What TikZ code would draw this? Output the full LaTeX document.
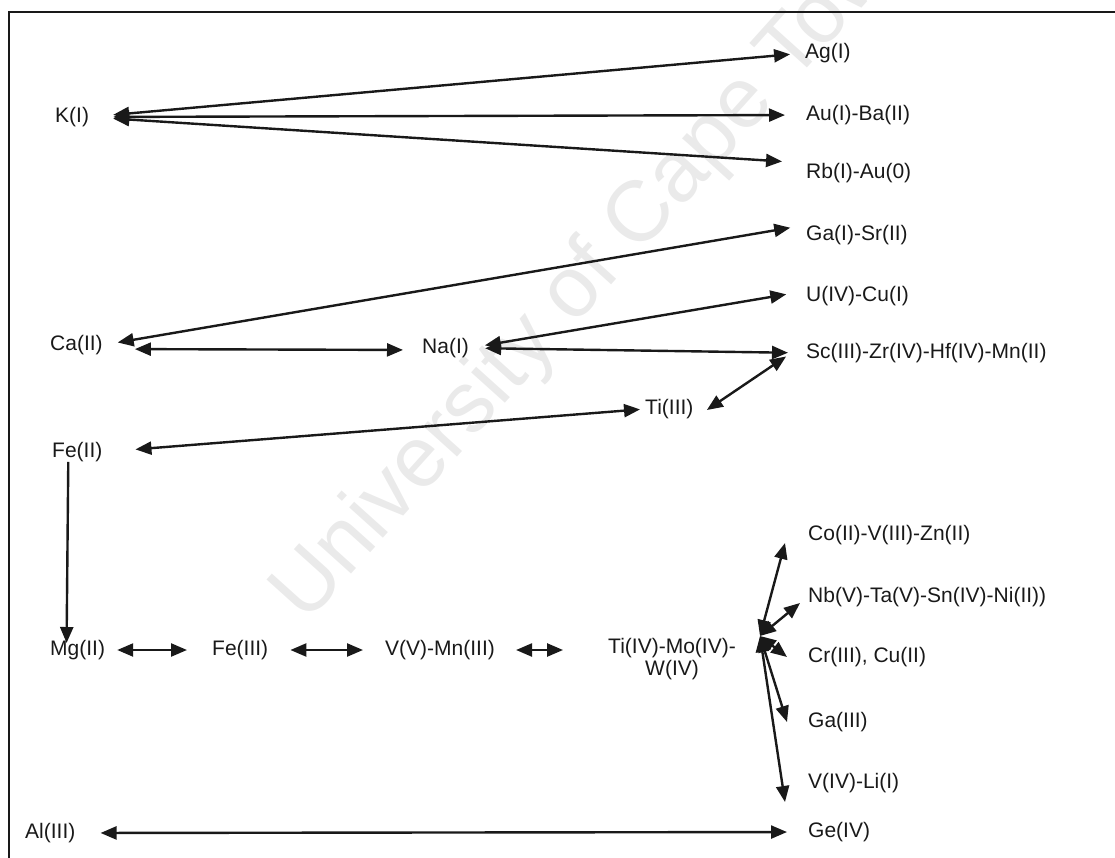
\documentclass[tikz,border=0pt]{standalone}
\usepackage{fontspec}
\setmainfont{Liberation Sans}
\usetikzlibrary{arrows.meta,calc}
\definecolor{inkblack}{RGB}{25,25,25}
\definecolor{markgray}{RGB}{234,234,234}
\newcommand\ionfont{\fontsize{21}{25}\selectfont}

\begin{document}
\begin{tikzpicture}[x=1pt, y=-1pt,
    ion/.style={font=\ionfont, text=inkblack, inner sep=0pt, anchor=west},
    link/.style={{Triangle[length=16pt,width=13pt]}-{Triangle[length=16pt,width=13pt]}, line width=2.4pt, draw=inkblack},
    oneway/.style={-{Triangle[length=16pt,width=13pt]}, line width=2.4pt, draw=inkblack}
  ]
    \useasboundingbox (0,0) rectangle (1115,858);
    \node[rotate=48, text=markgray, font=\fontsize{86}{86}\selectfont] (mark) at (600,265) {University of Cape Town};
    \draw[line width=1.5pt, inkblack] (9,858) -- (9,12) -- (1115,12);

    \node[ion] (kk) at (55,117) {K(I)};
    \node[ion] (ag) at (805,53) {Ag(I)};
    \node[ion] (auba) at (806,115) {Au(I)-Ba(II)};
    \node[ion] (rbau) at (806,173) {Rb(I)-Au(0)};
    \node[ion] (gasr) at (806,235) {Ga(I)-Sr(II)};
    \node[ion] (ucu) at (806,296) {U(IV)-Cu(I)};
    \node[ion] (sczr) at (806,353) {Sc(III)-Zr(IV)-Hf(IV)-Mn(II)};
    \node[ion] (ca) at (50,345) {Ca(II)};
    \node[ion] (na) at (422,348) {Na(I)};
    \node[ion] (tiiii) at (645,409) {Ti(III)};
    \node[ion] (feii) at (52,452) {Fe(II)};
    \node[ion] (mg) at (50,650) {Mg(II)};
    \node[ion] (feiii) at (212,650) {Fe(III)};
    \node[ion] (vmn) at (385,650) {V(V)-Mn(III)};
    \node[ion, anchor=center, align=center, font={\fontsize{21}{22}\selectfont}] (tiiv) at (672,659) {Ti(IV)-Mo(IV)-\\W(IV)};
    \node[ion] (co) at (808,535) {Co(II)-V(III)-Zn(II)};
    \node[ion] (nb) at (808,597) {Nb(V)-Ta(V)-Sn(IV)-Ni(II))};
    \node[ion] (cr) at (808,657) {Cr(III), Cu(II)};
    \node[ion] (gaiii) at (808,722) {Ga(III)};
    \node[ion] (vli) at (808,783) {V(IV)-Li(I)};
    \node[ion] (ge) at (808,832) {Ge(IV)};
    \node[ion] (al) at (25,833) {Al(III)};
    \coordinate (hub) at (760,636);

    % K(I) fan
    \draw[link, shorten <=24pt, shorten >=15pt] (kk.east) -- (ag.west);
    \draw[link, shorten <=24pt, shorten >=21pt] (kk.east) -- (auba.west);
    \draw[link, shorten <=24pt, shorten >=24pt] (kk.east) -- (rbau.north west);
    % Ca(II), Na(I), Ti(III)
    \draw[link, shorten <=15pt, shorten >=16pt] (ca.east) -- (gasr.north west);
    \draw[link, shorten <=32pt, shorten >=19pt] ([yshift=-4pt]ca.east) -- ([yshift=-2pt]na.west);
    \draw[link, shorten <=16pt, shorten >=20pt] (na.east) -- ([yshift=5pt]ucu.west);
    \draw[link, shorten <=16pt, shorten >=18pt] (na.east) -- (sczr.west);
    \draw[link, shorten <=24pt, shorten >=16pt] (sczr.north west) -- (tiiii.south east);
    \draw[link, shorten <=33pt, shorten >=5pt] (feii.east) -- (tiiii.west);
    \draw[oneway, shorten >=-3pt] ([xshift=-9pt]feii.south) -- ([xshift=-11pt]mg.north);
    % bottom row
    \draw[link, shorten <=12pt, shorten >=25pt] (mg.east) -- (feiii.west);
    \draw[link, shorten <=22pt, shorten >=22pt] (feiii.east) -- (vmn.west);
    \draw[link, shorten <=21pt, shorten >=45pt] (vmn.east) -- (vmn.east -| tiiv.west);
    % fan from Ti(IV)
    \draw[link] (hub) -- ([xshift=-23pt, yshift=-8pt]co.west);
    \draw[link] (hub) -- ([xshift=-8pt, yshift=-6pt]nb.west);
    \draw[link] (hub) -- ([xshift=-21pt]cr.west);
    \draw[link] (hub) -- ([xshift=-21pt]gaiii.west);
    \draw[link] (hub) -- ([xshift=-23pt, yshift=-19pt]vli.west);
    \draw[link, shorten <=25pt, shorten >=21pt] (al.east) -- (ge.west);
\end{tikzpicture}
\end{document}
